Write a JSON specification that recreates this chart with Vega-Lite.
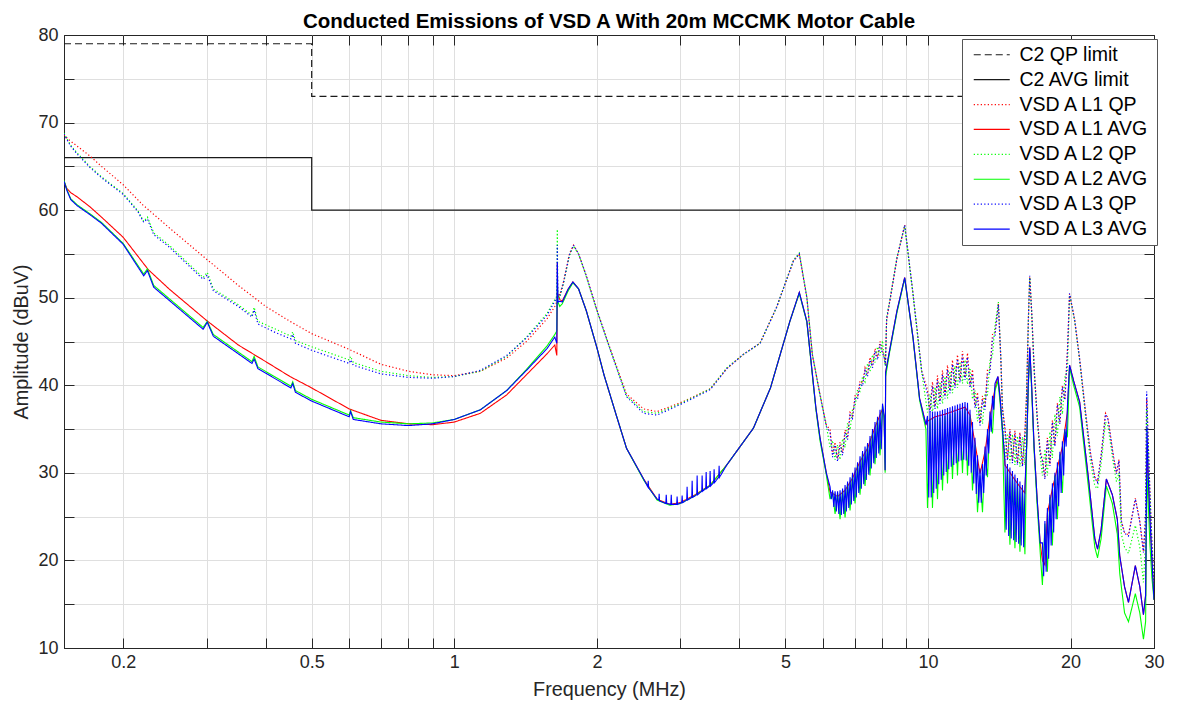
{
"$schema":"https://vega.github.io/schema/vega-lite/v6.json",
"width":1090,"height":613,
"autosize":{"type":"none"},
"padding":{"left":64,"top":35,"right":25,"bottom":57},
"background":"white",
"title":{"text":"Conducted Emissions of VSD A With 20m MCCMK Motor Cable","fontSize":20.5,"fontWeight":"bold","font":"Liberation Sans","color":"#000000","offset":6,"dy":12},
"config":{"font":"Liberation Sans","view":{"stroke":"#262626","strokeWidth":1}},
"data":{"values":[
{"s":1,"f":0.15,"v":79,"i":0},{"s":1,"f":0.5,"v":79,"i":1},{"s":1,"f":0.5,"v":73,"i":2},{"s":1,"f":30,"v":73,"i":3},
{"s":2,"f":0.15,"v":66,"i":0},{"s":2,"f":0.5,"v":66,"i":1},{"s":2,"f":0.5,"v":60,"i":2},{"s":2,"f":30,"v":60,"i":3},
{"s":3,"f":0.15,"v":68.6},{"s":3,"f":0.153,"v":68.1},{"s":3,"f":0.16,"v":67.3},{"s":3,"f":0.17,"v":66.2},{"s":3,"f":0.18,"v":65.0},{"s":3,"f":0.2,"v":62.9},{"s":3,"f":0.22,"v":60.6},{"s":3,"f":0.25,"v":58.0},{"s":3,"f":0.3,"v":54.4},{"s":3,"f":0.35,"v":51.4},{"s":3,"f":0.4,"v":49.0},{"s":3,"f":0.45,"v":47.3},{"s":3,"f":0.5,"v":45.9},{"s":3,"f":0.6,"v":44.1},{"s":3,"f":0.7,"v":42.4},{"s":3,"f":0.8,"v":41.6},{"s":3,"f":0.9,"v":41.2},{"s":3,"f":1.0,"v":41.1},{"s":3,"f":1.135,"v":41.6},{"s":3,"f":1.29,"v":43.1},{"s":3,"f":1.42,"v":45.0},{"s":3,"f":1.57,"v":47.6},{"s":3,"f":1.63,"v":49.0},{"s":3,"f":1.648,"v":49.6},{"s":3,"f":1.65,"v":54.0},{"s":3,"f":1.653,"v":50.5},{"s":3,"f":1.67,"v":50.3},{"s":3,"f":1.7,"v":51.8},{"s":3,"f":1.75,"v":55.0},{"s":3,"f":1.785,"v":56.0},{"s":3,"f":1.83,"v":55.0},{"s":3,"f":1.9,"v":52.5},{"s":3,"f":2.0,"v":48.6},{"s":3,"f":2.13,"v":44.3},{"s":3,"f":2.31,"v":39.0},{"s":3,"f":2.51,"v":37.3},{"s":3,"f":2.68,"v":37.0},{"s":3,"f":3.0,"v":38.0},{"s":3,"f":3.47,"v":39.6},{"s":3,"f":3.76,"v":41.9},{"s":3,"f":4.07,"v":43.5},{"s":3,"f":4.42,"v":44.8},{"s":3,"f":4.79,"v":48.9},{"s":3,"f":5.2,"v":54.2},{"s":3,"f":5.35,"v":55.0},{"s":3,"f":5.55,"v":50.0},{"s":3,"f":5.7,"v":43.5},{"s":3,"f":5.92,"v":38.9},{"s":3,"f":6.1,"v":35.5},
{"s":3,"f":6.213,"v":34.9},{"s":3,"f":6.289,"v":32.1},{"s":3,"f":6.366,"v":33.5},{"s":3,"f":6.444,"v":31.6},{"s":3,"f":6.522,"v":33.5},{"s":3,"f":6.602,"v":32.3},{"s":3,"f":6.683,"v":34.9},{"s":3,"f":6.764,"v":34.1},{"s":3,"f":6.847,"v":36.9},{"s":3,"f":6.93,"v":36.5},{"s":3,"f":7.015,"v":38.8},{"s":3,"f":7.101,"v":38.7},{"s":3,"f":7.187,"v":40.5},{"s":3,"f":7.275,"v":40.2},{"s":3,"f":7.364,"v":42.0},{"s":3,"f":7.454,"v":41.3},{"s":3,"f":7.545,"v":43.2},{"s":3,"f":7.637,"v":42.3},{"s":3,"f":7.73,"v":44.2},{"s":3,"f":7.825,"v":43.2},{"s":3,"f":7.92,"v":45.0},{"s":3,"f":8.017,"v":43.9},
{"s":3,"f":8.07,"v":43.5},{"s":3,"f":8.13,"v":42.4},{"s":3,"f":8.18,"v":47.5},{"s":3,"f":8.3,"v":49.5},{"s":3,"f":8.6,"v":54.5},{"s":3,"f":8.93,"v":58.3},{"s":3,"f":9.3,"v":50.4},{"s":3,"f":9.7,"v":41.6},
{"s":3,"f":9.976,"v":39.5},{"s":3,"f":10.098,"v":37.2},{"s":3,"f":10.221,"v":40.4},{"s":3,"f":10.346,"v":37.6},{"s":3,"f":10.473,"v":41.1},{"s":3,"f":10.601,"v":38.2},{"s":3,"f":10.731,"v":41.7},{"s":3,"f":10.862,"v":38.8},{"s":3,"f":10.995,"v":42.3},{"s":3,"f":11.129,"v":39.4},{"s":3,"f":11.265,"v":42.9},{"s":3,"f":11.403,"v":40.0},{"s":3,"f":11.542,"v":43.5},{"s":3,"f":11.683,"v":40.6},{"s":3,"f":11.826,"v":43.9},{"s":3,"f":11.971,"v":40.9},{"s":3,"f":12.117,"v":43.7},{"s":3,"f":12.265,"v":40.0},{"s":3,"f":12.415,"v":41.8},{"s":3,"f":12.567,"v":37.7},{"s":3,"f":12.721,"v":39.2},{"s":3,"f":12.876,"v":35.7},{"s":3,"f":13.034,"v":38.8},{"s":3,"f":13.193,"v":37.5},{"s":3,"f":13.354,"v":41.8},{"s":3,"f":13.517,"v":41.8},{"s":3,"f":13.682,"v":45.8},{"s":3,"f":13.85,"v":46.0},
{"s":3,"f":14.08,"v":49.3},{"s":3,"f":14.25,"v":43.0},{"s":3,"f":14.36,"v":37.5},
{"s":3,"f":14.536,"v":35.2},{"s":3,"f":14.713,"v":31.6},{"s":3,"f":14.893,"v":35.0},{"s":3,"f":15.075,"v":31.3},{"s":3,"f":15.259,"v":34.8},{"s":3,"f":15.446,"v":31.1},{"s":3,"f":15.635,"v":34.6},{"s":3,"f":15.826,"v":30.9},{"s":3,"f":16.019,"v":34.8},
{"s":3,"f":16.15,"v":39.0},{"s":3,"f":16.3,"v":48.0},{"s":3,"f":16.4,"v":52.4},{"s":3,"f":16.55,"v":48.5},{"s":3,"f":16.75,"v":42.0},{"s":3,"f":17.0,"v":36.5},{"s":3,"f":17.25,"v":32.5},
{"s":3,"f":17.44,"v":31.5},{"s":3,"f":17.653,"v":29.5},{"s":3,"f":17.869,"v":34.0},{"s":3,"f":18.087,"v":31.0},{"s":3,"f":18.308,"v":36.0},{"s":3,"f":18.532,"v":33.2},{"s":3,"f":18.759,"v":38.0},{"s":3,"f":18.988,"v":35.8},{"s":3,"f":19.22,"v":40.0},{"s":3,"f":19.455,"v":38.5},{"s":3,"f":19.693,"v":44.0},
{"s":3,"f":19.9,"v":50.4},{"s":3,"f":20.4,"v":47.5},{"s":3,"f":20.9,"v":43.0},{"s":3,"f":21.5,"v":37.0},{"s":3,"f":22.0,"v":32.5},{"s":3,"f":22.5,"v":29.5},{"s":3,"f":22.8,"v":29.0},{"s":3,"f":23.2,"v":32.0},{"s":3,"f":23.7,"v":36.8},{"s":3,"f":24.0,"v":36.2},{"s":3,"f":24.6,"v":32.1},{"s":3,"f":25.0,"v":30.0},{"s":3,"f":25.3,"v":31.5},{"s":3,"f":25.6,"v":24.5},{"s":3,"f":26.0,"v":23.2},{"s":3,"f":26.5,"v":22.9},{"s":3,"f":27.4,"v":27.1},{"s":3,"f":28.0,"v":24.5},{"s":3,"f":28.5,"v":21.0},{"s":3,"f":28.8,"v":25.0},{"s":3,"f":28.95,"v":38.5},{"s":3,"f":29.1,"v":35.0},{"s":3,"f":29.4,"v":28.0},{"s":3,"f":29.7,"v":22.0},{"s":3,"f":30.0,"v":17.0},
{"s":4,"f":0.15,"v":63.3},{"s":4,"f":0.152,"v":62.5},{"s":4,"f":0.155,"v":62.0},{"s":4,"f":0.16,"v":61.5},{"s":4,"f":0.17,"v":60.4},{"s":4,"f":0.18,"v":59.2},{"s":4,"f":0.2,"v":56.9},{"s":4,"f":0.226,"v":53.2},{"s":4,"f":0.25,"v":51.0},{"s":4,"f":0.3,"v":47.4},{"s":4,"f":0.35,"v":44.6},{"s":4,"f":0.4,"v":42.7},{"s":4,"f":0.45,"v":41.0},{"s":4,"f":0.5,"v":39.7},{"s":4,"f":0.6,"v":37.3},{"s":4,"f":0.7,"v":36.0},{"s":4,"f":0.8,"v":35.6},{"s":4,"f":0.9,"v":35.5},{"s":4,"f":1.0,"v":35.8},{"s":4,"f":1.135,"v":36.8},{"s":4,"f":1.29,"v":38.9},{"s":4,"f":1.42,"v":41.2},{"s":4,"f":1.57,"v":43.6},{"s":4,"f":1.63,"v":44.6},{"s":4,"f":1.646,"v":43.4},{"s":4,"f":1.65,"v":50.5},{"s":4,"f":1.67,"v":49.8},{"s":4,"f":1.69,"v":49.6},{"s":4,"f":1.74,"v":51.0},{"s":4,"f":1.78,"v":51.8},{"s":4,"f":1.83,"v":51.0},{"s":4,"f":1.9,"v":48.5},{"s":4,"f":2.0,"v":44.3},{"s":4,"f":2.07,"v":41.2},{"s":4,"f":2.2,"v":36.5},{"s":4,"f":2.31,"v":32.8},{"s":4,"f":2.51,"v":29.3},{"s":4,"f":2.68,"v":27.0},{"s":4,"f":2.85,"v":26.4},{"s":4,"f":3.0,"v":26.6},{"s":4,"f":3.2,"v":27.4},{"s":4,"f":3.47,"v":28.6},{"s":4,"f":3.76,"v":30.9},{"s":4,"f":4.28,"v":35.1},{"s":4,"f":4.65,"v":39.7},{"s":4,"f":5.11,"v":47.3},{"s":4,"f":5.35,"v":50.6},{"s":4,"f":5.55,"v":47.3},{"s":4,"f":5.8,"v":37.4},{"s":4,"f":5.92,"v":33.9},{"s":4,"f":6.1,"v":30.0},{"s":4,"f":6.213,"v":27.8},{"s":4,"f":6.444,"v":27.3},{"s":4,"f":6.683,"v":28.0},{"s":4,"f":6.93,"v":29.4},{"s":4,"f":7.187,"v":31.3},{"s":4,"f":7.454,"v":32.8},{"s":4,"f":7.73,"v":35.2},{"s":4,"f":8.017,"v":37.3},{"s":4,"f":8.08,"v":36.5},{"s":4,"f":8.12,"v":30.3},{"s":4,"f":8.14,"v":41.5},{"s":4,"f":8.3,"v":44.0},{"s":4,"f":8.6,"v":48.5},{"s":4,"f":8.93,"v":52.3},{"s":4,"f":9.3,"v":45.4},{"s":4,"f":9.6,"v":38.5},{"s":4,"f":9.9,"v":35.5},{"s":4,"f":9.976,"v":35.9},{"s":4,"f":10.346,"v":36.4},{"s":4,"f":10.862,"v":36.7},{"s":4,"f":11.403,"v":37.1},{"s":4,"f":11.971,"v":37.5},{"s":4,"f":12.265,"v":36.6},{"s":4,"f":12.567,"v":33.4},{"s":4,"f":12.876,"v":29.9},{"s":4,"f":13.193,"v":32.4},{"s":4,"f":13.517,"v":36.4},{"s":4,"f":13.85,"v":39.6},{"s":4,"f":14.05,"v":41.0},{"s":4,"f":14.2,"v":38.5},{"s":4,"f":14.36,"v":35.0},{"s":4,"f":14.536,"v":30.9},{"s":4,"f":15.075,"v":29.6},{"s":4,"f":15.635,"v":28.4},{"s":4,"f":16.019,"v":27.7},{"s":4,"f":16.15,"v":33.0},{"s":4,"f":16.28,"v":40.0},{"s":4,"f":16.4,"v":44.3},{"s":4,"f":16.55,"v":40.0},{"s":4,"f":16.75,"v":33.0},{"s":4,"f":17.0,"v":27.0},{"s":4,"f":17.25,"v":22.0},{"s":4,"f":17.44,"v":20.0},{"s":4,"f":17.653,"v":19.5},{"s":4,"f":17.869,"v":25.4},{"s":4,"f":18.308,"v":28.2},{"s":4,"f":18.759,"v":30.6},{"s":4,"f":19.22,"v":33.0},{"s":4,"f":19.693,"v":36.9},{"s":4,"f":19.9,"v":42.3},{"s":4,"f":20.3,"v":40.5},{"s":4,"f":20.9,"v":38.1},{"s":4,"f":21.8,"v":29.5},{"s":4,"f":22.5,"v":22.5},{"s":4,"f":22.8,"v":21.3},{"s":4,"f":23.2,"v":23.5},{"s":4,"f":23.8,"v":29.3},{"s":4,"f":24.5,"v":27.5},{"s":4,"f":25.1,"v":24.7},{"s":4,"f":25.4,"v":20.5},{"s":4,"f":26.0,"v":17.0},{"s":4,"f":26.5,"v":15.2},{"s":4,"f":27.4,"v":19.4},{"s":4,"f":28.0,"v":17.0},{"s":4,"f":28.5,"v":13.8},{"s":4,"f":28.8,"v":16.0},{"s":4,"f":29.0,"v":33.0},{"s":4,"f":29.15,"v":30.0},{"s":4,"f":29.4,"v":25.0},{"s":4,"f":29.7,"v":20.0},{"s":4,"f":30.0,"v":15.5},
{"s":5,"f":0.15,"v":68.8},{"s":5,"f":0.152,"v":68.2},{"s":5,"f":0.155,"v":67.4},{"s":5,"f":0.16,"v":66.5},{"s":5,"f":0.17,"v":65.0},{"s":5,"f":0.18,"v":63.8},{"s":5,"f":0.2,"v":61.9},{"s":5,"f":0.215,"v":59.9},{"s":5,"f":0.221,"v":58.7},{"s":5,"f":0.225,"v":59.2},{"s":5,"f":0.232,"v":57.4},{"s":5,"f":0.25,"v":56.0},{"s":5,"f":0.295,"v":52.3},{"s":5,"f":0.301,"v":52.9},{"s":5,"f":0.31,"v":51.0},{"s":5,"f":0.35,"v":49.2},{"s":5,"f":0.374,"v":48.0},{"s":5,"f":0.378,"v":48.9},{"s":5,"f":0.385,"v":47.3},{"s":5,"f":0.42,"v":46.4},{"s":5,"f":0.452,"v":45.6},{"s":5,"f":0.456,"v":46.1},{"s":5,"f":0.462,"v":45.1},{"s":5,"f":0.5,"v":44.4},{"s":5,"f":0.6,"v":42.9},{"s":5,"f":0.604,"v":43.3},{"s":5,"f":0.612,"v":42.6},{"s":5,"f":0.7,"v":41.6},{"s":5,"f":0.8,"v":41.1},{"s":5,"f":0.9,"v":40.9},{"s":5,"f":1.0,"v":41.0},{"s":5,"f":1.135,"v":41.6},{"s":5,"f":1.29,"v":43.3},{"s":5,"f":1.42,"v":45.5},{"s":5,"f":1.57,"v":48.2},{"s":5,"f":1.63,"v":49.8},{"s":5,"f":1.648,"v":50.2},{"s":5,"f":1.65,"v":57.8},{"s":5,"f":1.653,"v":50.2},{"s":5,"f":1.67,"v":50.0},{"s":5,"f":1.7,"v":51.6},{"s":5,"f":1.75,"v":54.8},{"s":5,"f":1.785,"v":55.9},{"s":5,"f":1.83,"v":55.0},{"s":5,"f":1.9,"v":52.4},{"s":5,"f":2.0,"v":48.5},{"s":5,"f":2.13,"v":44.2},{"s":5,"f":2.31,"v":38.8},{"s":5,"f":2.51,"v":37.0},{"s":5,"f":2.68,"v":36.8},{"s":5,"f":3.0,"v":37.9},{"s":5,"f":3.47,"v":39.6},{"s":5,"f":3.76,"v":42.0},{"s":5,"f":4.07,"v":43.5},{"s":5,"f":4.42,"v":44.8},{"s":5,"f":4.79,"v":48.9},{"s":5,"f":5.2,"v":54.3},{"s":5,"f":5.35,"v":55.1},{"s":5,"f":5.55,"v":50.1},{"s":5,"f":5.7,"v":43.6},{"s":5,"f":5.92,"v":38.8},{"s":5,"f":6.1,"v":35.4},
{"s":5,"f":6.213,"v":32.9},{"s":5,"f":6.289,"v":33.7},{"s":5,"f":6.366,"v":31.5},{"s":5,"f":6.444,"v":33.2},{"s":5,"f":6.522,"v":31.5},{"s":5,"f":6.602,"v":33.9},{"s":5,"f":6.683,"v":32.9},{"s":5,"f":6.764,"v":35.7},{"s":5,"f":6.847,"v":34.9},{"s":5,"f":6.93,"v":37.3},{"s":5,"f":7.015,"v":37.6},{"s":5,"f":7.101,"v":39.5},{"s":5,"f":7.187,"v":39.3},{"s":5,"f":7.275,"v":41.0},{"s":5,"f":7.364,"v":40.4},{"s":5,"f":7.454,"v":42.5},{"s":5,"f":7.545,"v":41.6},{"s":5,"f":7.637,"v":43.5},{"s":5,"f":7.73,"v":42.6},{"s":5,"f":7.825,"v":44.4},{"s":5,"f":7.92,"v":43.4},{"s":5,"f":8.017,"v":45.1},
{"s":5,"f":8.07,"v":43.3},{"s":5,"f":8.13,"v":42.2},{"s":5,"f":8.18,"v":47.8},{"s":5,"f":8.3,"v":49.6},{"s":5,"f":8.6,"v":54.6},{"s":5,"f":8.93,"v":58.2},{"s":5,"f":9.3,"v":50.3},{"s":5,"f":9.7,"v":41.5},
{"s":5,"f":9.976,"v":36.9},{"s":5,"f":10.098,"v":39.0},{"s":5,"f":10.221,"v":36.8},{"s":5,"f":10.346,"v":39.8},{"s":5,"f":10.473,"v":37.3},{"s":5,"f":10.601,"v":40.4},{"s":5,"f":10.731,"v":37.9},{"s":5,"f":10.862,"v":41.0},{"s":5,"f":10.995,"v":38.5},{"s":5,"f":11.129,"v":41.6},{"s":5,"f":11.265,"v":39.1},{"s":5,"f":11.403,"v":42.2},{"s":5,"f":11.542,"v":39.7},{"s":5,"f":11.683,"v":42.7},{"s":5,"f":11.826,"v":40.2},{"s":5,"f":11.971,"v":42.9},{"s":5,"f":12.117,"v":40.1},{"s":5,"f":12.265,"v":42.0},{"s":5,"f":12.415,"v":38.4},{"s":5,"f":12.567,"v":39.4},{"s":5,"f":12.721,"v":35.9},{"s":5,"f":12.876,"v":37.5},{"s":5,"f":13.034,"v":35.6},{"s":5,"f":13.193,"v":39.0},{"s":5,"f":13.354,"v":38.9},{"s":5,"f":13.517,"v":42.8},{"s":5,"f":13.682,"v":43.4},{"s":5,"f":13.85,"v":46.8},
{"s":5,"f":14.08,"v":49.5},{"s":5,"f":14.25,"v":43.0},{"s":5,"f":14.36,"v":37.3},
{"s":5,"f":14.536,"v":31.5},{"s":5,"f":14.713,"v":34.5},{"s":5,"f":14.893,"v":31.1},{"s":5,"f":15.075,"v":34.4},{"s":5,"f":15.259,"v":30.9},{"s":5,"f":15.446,"v":34.2},{"s":5,"f":15.635,"v":30.7},{"s":5,"f":15.826,"v":34.1},{"s":5,"f":16.019,"v":30.9},
{"s":5,"f":16.15,"v":38.8},{"s":5,"f":16.3,"v":48.0},{"s":5,"f":16.4,"v":52.3},{"s":5,"f":16.55,"v":48.3},{"s":5,"f":16.75,"v":41.8},{"s":5,"f":17.0,"v":36.2},{"s":5,"f":17.25,"v":32.0},
{"s":5,"f":17.44,"v":29.7},{"s":5,"f":17.653,"v":32.7},{"s":5,"f":17.869,"v":29.7},{"s":5,"f":18.087,"v":34.7},{"s":5,"f":18.308,"v":31.7},{"s":5,"f":18.532,"v":36.7},{"s":5,"f":18.759,"v":34.2},{"s":5,"f":18.988,"v":38.7},{"s":5,"f":19.22,"v":36.7},{"s":5,"f":19.455,"v":40.9},{"s":5,"f":19.693,"v":41.7},
{"s":5,"f":19.9,"v":50.3},{"s":5,"f":20.4,"v":47.3},{"s":5,"f":20.9,"v":42.8},{"s":5,"f":21.5,"v":36.5},{"s":5,"f":22.0,"v":31.5},{"s":5,"f":22.5,"v":28.5},{"s":5,"f":22.8,"v":28.2},{"s":5,"f":23.2,"v":31.0},{"s":5,"f":23.7,"v":35.8},{"s":5,"f":24.0,"v":35.3},{"s":5,"f":24.6,"v":31.2},{"s":5,"f":25.0,"v":29.0},{"s":5,"f":25.3,"v":30.0},{"s":5,"f":25.6,"v":23.0},{"s":5,"f":26.0,"v":21.5},{"s":5,"f":26.5,"v":20.8},{"s":5,"f":27.4,"v":24.0},{"s":5,"f":28.0,"v":21.5},{"s":5,"f":28.5,"v":17.5},{"s":5,"f":28.8,"v":22.0},{"s":5,"f":28.95,"v":37.5},{"s":5,"f":29.1,"v":34.0},{"s":5,"f":29.4,"v":27.0},{"s":5,"f":29.7,"v":21.0},{"s":5,"f":30.0,"v":16.0},
{"s":6,"f":0.15,"v":63.4},{"s":6,"f":0.152,"v":62.4},{"s":6,"f":0.155,"v":61.3},{"s":6,"f":0.16,"v":60.6},{"s":6,"f":0.17,"v":59.6},{"s":6,"f":0.18,"v":58.6},{"s":6,"f":0.2,"v":56.2},{"s":6,"f":0.221,"v":52.7},{"s":6,"f":0.225,"v":53.3},{"s":6,"f":0.232,"v":51.4},{"s":6,"f":0.295,"v":46.6},{"s":6,"f":0.301,"v":47.3},{"s":6,"f":0.31,"v":45.8},{"s":6,"f":0.374,"v":42.7},{"s":6,"f":0.378,"v":43.3},{"s":6,"f":0.385,"v":42.1},{"s":6,"f":0.452,"v":39.9},{"s":6,"f":0.456,"v":40.4},{"s":6,"f":0.462,"v":39.4},{"s":6,"f":0.5,"v":38.4},{"s":6,"f":0.6,"v":36.6},{"s":6,"f":0.604,"v":37.1},{"s":6,"f":0.612,"v":36.3},{"s":6,"f":0.7,"v":35.8},{"s":6,"f":0.8,"v":35.6},{"s":6,"f":0.9,"v":35.7},{"s":6,"f":1.0,"v":36.1},{"s":6,"f":1.135,"v":37.2},{"s":6,"f":1.29,"v":39.4},{"s":6,"f":1.42,"v":41.8},{"s":6,"f":1.57,"v":44.5},{"s":6,"f":1.63,"v":45.8},{"s":6,"f":1.646,"v":46.2},{"s":6,"f":1.65,"v":52.0},{"s":6,"f":1.655,"v":49.5},{"s":6,"f":1.67,"v":49.0},{"s":6,"f":1.69,"v":49.3},{"s":6,"f":1.74,"v":50.8},{"s":6,"f":1.78,"v":51.7},{"s":6,"f":1.83,"v":51.0},{"s":6,"f":1.9,"v":48.5},{"s":6,"f":2.0,"v":44.3},{"s":6,"f":2.07,"v":41.2},{"s":6,"f":2.2,"v":36.5},{"s":6,"f":2.31,"v":32.8},{"s":6,"f":2.51,"v":29.2},{"s":6,"f":2.68,"v":26.9},{"s":6,"f":2.85,"v":26.3},{"s":6,"f":3.0,"v":26.5},{"s":6,"f":3.2,"v":27.3},{"s":6,"f":3.47,"v":28.6},{"s":6,"f":3.76,"v":30.9},{"s":6,"f":4.28,"v":35.1},{"s":6,"f":4.65,"v":39.7},{"s":6,"f":5.11,"v":47.3},{"s":6,"f":5.35,"v":50.5},{"s":6,"f":5.55,"v":47.2},{"s":6,"f":5.8,"v":37.2},{"s":6,"f":5.92,"v":33.6},{"s":6,"f":6.1,"v":29.8},
{"s":6,"f":6.213,"v":27.0},{"s":6,"f":6.289,"v":27.8},{"s":6,"f":6.366,"v":25.3},{"s":6,"f":6.444,"v":27.7},{"s":6,"f":6.522,"v":24.7},{"s":6,"f":6.602,"v":28.0},{"s":6,"f":6.683,"v":24.9},{"s":6,"f":6.764,"v":28.8},{"s":6,"f":6.847,"v":25.7},{"s":6,"f":6.93,"v":29.8},{"s":6,"f":7.015,"v":26.5},{"s":6,"f":7.101,"v":31.0},{"s":6,"f":7.187,"v":27.5},{"s":6,"f":7.275,"v":32.3},{"s":6,"f":7.364,"v":28.5},{"s":6,"f":7.454,"v":33.2},{"s":6,"f":7.545,"v":29.7},{"s":6,"f":7.637,"v":34.8},{"s":6,"f":7.73,"v":31.0},{"s":6,"f":7.825,"v":36.2},{"s":6,"f":7.92,"v":32.0},{"s":6,"f":8.017,"v":37.7},
{"s":6,"f":8.08,"v":36.0},{"s":6,"f":8.12,"v":30.0},{"s":6,"f":8.14,"v":41.0},{"s":6,"f":8.3,"v":43.8},{"s":6,"f":8.6,"v":48.3},{"s":6,"f":8.93,"v":52.2},{"s":6,"f":9.3,"v":45.3},{"s":6,"f":9.6,"v":38.3},{"s":6,"f":9.9,"v":35.0},
{"s":6,"f":9.976,"v":26.0},{"s":6,"f":10.098,"v":36.2},{"s":6,"f":10.221,"v":26.0},{"s":6,"f":10.346,"v":36.2},{"s":6,"f":10.473,"v":27.0},{"s":6,"f":10.601,"v":36.3},{"s":6,"f":10.731,"v":28.0},{"s":6,"f":10.862,"v":36.5},{"s":6,"f":10.995,"v":28.8},{"s":6,"f":11.129,"v":36.7},{"s":6,"f":11.265,"v":29.3},{"s":6,"f":11.403,"v":36.9},{"s":6,"f":11.542,"v":29.7},{"s":6,"f":11.683,"v":37.1},{"s":6,"f":11.826,"v":30.0},{"s":6,"f":11.971,"v":37.3},{"s":6,"f":12.117,"v":29.7},{"s":6,"f":12.265,"v":36.4},{"s":6,"f":12.415,"v":28.0},{"s":6,"f":12.567,"v":33.2},{"s":6,"f":12.721,"v":25.5},{"s":6,"f":12.876,"v":29.7},{"s":6,"f":13.034,"v":25.5},{"s":6,"f":13.193,"v":32.2},{"s":6,"f":13.354,"v":29.5},{"s":6,"f":13.517,"v":36.2},{"s":6,"f":13.682,"v":34.5},{"s":6,"f":13.85,"v":39.4},
{"s":6,"f":14.05,"v":40.5},{"s":6,"f":14.2,"v":38.0},{"s":6,"f":14.36,"v":34.5},
{"s":6,"f":14.536,"v":23.2},{"s":6,"f":14.713,"v":30.7},{"s":6,"f":14.893,"v":21.8},{"s":6,"f":15.075,"v":29.9},{"s":6,"f":15.259,"v":21.4},{"s":6,"f":15.446,"v":29.1},{"s":6,"f":15.635,"v":21.0},{"s":6,"f":15.826,"v":28.3},{"s":6,"f":16.019,"v":20.7},
{"s":6,"f":16.15,"v":32.5},{"s":6,"f":16.28,"v":39.5},{"s":6,"f":16.4,"v":43.8},{"s":6,"f":16.55,"v":39.5},{"s":6,"f":16.75,"v":32.5},{"s":6,"f":17.0,"v":26.3},{"s":6,"f":17.25,"v":21.0},
{"s":6,"f":17.44,"v":17.2},{"s":6,"f":17.653,"v":24.2},{"s":6,"f":17.869,"v":18.7},{"s":6,"f":18.087,"v":27.2},{"s":6,"f":18.308,"v":21.7},{"s":6,"f":18.532,"v":29.7},{"s":6,"f":18.759,"v":24.7},{"s":6,"f":18.988,"v":32.1},{"s":6,"f":19.22,"v":27.7},{"s":6,"f":19.455,"v":34.7},{"s":6,"f":19.693,"v":34.2},
{"s":6,"f":19.9,"v":42.0},{"s":6,"f":20.3,"v":40.0},{"s":6,"f":20.9,"v":37.5},{"s":6,"f":21.8,"v":28.5},{"s":6,"f":22.5,"v":21.5},{"s":6,"f":22.8,"v":20.3},{"s":6,"f":23.2,"v":22.5},{"s":6,"f":23.8,"v":28.5},{"s":6,"f":24.5,"v":26.5},{"s":6,"f":25.1,"v":23.0},{"s":6,"f":25.4,"v":18.5},{"s":6,"f":26.0,"v":14.0},{"s":6,"f":26.5,"v":13.0},{"s":6,"f":27.4,"v":16.2},{"s":6,"f":28.0,"v":14.0},{"s":6,"f":28.5,"v":11.0},{"s":6,"f":28.8,"v":13.0},{"s":6,"f":29.0,"v":30.0},{"s":6,"f":29.15,"v":27.0},{"s":6,"f":29.4,"v":22.0},{"s":6,"f":29.7,"v":18.0},{"s":6,"f":30.0,"v":15.5},
{"s":7,"f":0.15,"v":68.7},{"s":7,"f":0.152,"v":68.1},{"s":7,"f":0.155,"v":67.3},{"s":7,"f":0.16,"v":66.4},{"s":7,"f":0.17,"v":64.9},{"s":7,"f":0.18,"v":63.7},{"s":7,"f":0.2,"v":61.8},{"s":7,"f":0.215,"v":59.8},{"s":7,"f":0.221,"v":58.6},{"s":7,"f":0.225,"v":59.0},{"s":7,"f":0.232,"v":57.2},{"s":7,"f":0.25,"v":55.8},{"s":7,"f":0.295,"v":52.1},{"s":7,"f":0.301,"v":52.6},{"s":7,"f":0.31,"v":50.8},{"s":7,"f":0.35,"v":49.0},{"s":7,"f":0.374,"v":47.8},{"s":7,"f":0.378,"v":48.6},{"s":7,"f":0.385,"v":47.0},{"s":7,"f":0.42,"v":46.0},{"s":7,"f":0.452,"v":45.3},{"s":7,"f":0.456,"v":45.8},{"s":7,"f":0.462,"v":44.8},{"s":7,"f":0.5,"v":44.0},{"s":7,"f":0.6,"v":42.5},{"s":7,"f":0.604,"v":42.9},{"s":7,"f":0.612,"v":42.3},{"s":7,"f":0.7,"v":41.3},{"s":7,"f":0.8,"v":40.9},{"s":7,"f":0.9,"v":40.8},{"s":7,"f":1.0,"v":41.0},{"s":7,"f":1.135,"v":41.7},{"s":7,"f":1.29,"v":43.4},{"s":7,"f":1.42,"v":45.4},{"s":7,"f":1.57,"v":48.0},{"s":7,"f":1.63,"v":49.6},{"s":7,"f":1.648,"v":50.0},{"s":7,"f":1.65,"v":56.0},{"s":7,"f":1.653,"v":50.4},{"s":7,"f":1.67,"v":50.2},{"s":7,"f":1.7,"v":51.7},{"s":7,"f":1.75,"v":54.9},{"s":7,"f":1.785,"v":56.0},{"s":7,"f":1.83,"v":55.0},{"s":7,"f":1.9,"v":52.5},{"s":7,"f":2.0,"v":48.6},{"s":7,"f":2.13,"v":44.2},{"s":7,"f":2.31,"v":38.7},{"s":7,"f":2.51,"v":36.8},{"s":7,"f":2.68,"v":36.6},{"s":7,"f":3.0,"v":37.8},{"s":7,"f":3.47,"v":39.5},{"s":7,"f":3.76,"v":41.9},{"s":7,"f":4.07,"v":43.5},{"s":7,"f":4.42,"v":44.8},{"s":7,"f":4.79,"v":48.9},{"s":7,"f":5.2,"v":54.2},{"s":7,"f":5.35,"v":55.0},{"s":7,"f":5.55,"v":50.0},{"s":7,"f":5.7,"v":43.5},{"s":7,"f":5.92,"v":38.8},{"s":7,"f":6.1,"v":35.3},
{"s":7,"f":6.213,"v":34.6},{"s":7,"f":6.289,"v":31.8},{"s":7,"f":6.366,"v":33.2},{"s":7,"f":6.444,"v":31.3},{"s":7,"f":6.522,"v":33.2},{"s":7,"f":6.602,"v":32.0},{"s":7,"f":6.683,"v":34.6},{"s":7,"f":6.764,"v":33.8},{"s":7,"f":6.847,"v":36.6},{"s":7,"f":6.93,"v":36.2},{"s":7,"f":7.015,"v":38.5},{"s":7,"f":7.101,"v":38.4},{"s":7,"f":7.187,"v":40.2},{"s":7,"f":7.275,"v":39.9},{"s":7,"f":7.364,"v":41.7},{"s":7,"f":7.454,"v":41.0},{"s":7,"f":7.545,"v":42.9},{"s":7,"f":7.637,"v":42.0},{"s":7,"f":7.73,"v":43.9},{"s":7,"f":7.825,"v":42.9},{"s":7,"f":7.92,"v":44.7},{"s":7,"f":8.017,"v":43.6},
{"s":7,"f":8.07,"v":43.4},{"s":7,"f":8.13,"v":42.3},{"s":7,"f":8.18,"v":47.6},{"s":7,"f":8.3,"v":49.5},{"s":7,"f":8.6,"v":54.5},{"s":7,"f":8.93,"v":58.3},{"s":7,"f":9.3,"v":50.4},{"s":7,"f":9.7,"v":41.6},
{"s":7,"f":9.976,"v":39.0},{"s":7,"f":10.098,"v":36.9},{"s":7,"f":10.221,"v":39.9},{"s":7,"f":10.346,"v":37.3},{"s":7,"f":10.473,"v":40.6},{"s":7,"f":10.601,"v":37.9},{"s":7,"f":10.731,"v":41.2},{"s":7,"f":10.862,"v":38.5},{"s":7,"f":10.995,"v":41.8},{"s":7,"f":11.129,"v":39.1},{"s":7,"f":11.265,"v":42.4},{"s":7,"f":11.403,"v":39.7},{"s":7,"f":11.542,"v":43.0},{"s":7,"f":11.683,"v":40.3},{"s":7,"f":11.826,"v":43.4},{"s":7,"f":11.971,"v":40.6},{"s":7,"f":12.117,"v":43.2},{"s":7,"f":12.265,"v":39.7},{"s":7,"f":12.415,"v":41.3},{"s":7,"f":12.567,"v":37.4},{"s":7,"f":12.721,"v":38.7},{"s":7,"f":12.876,"v":35.4},{"s":7,"f":13.034,"v":38.3},{"s":7,"f":13.193,"v":37.2},{"s":7,"f":13.354,"v":41.3},{"s":7,"f":13.517,"v":41.5},{"s":7,"f":13.682,"v":45.3},{"s":7,"f":13.85,"v":45.7},
{"s":7,"f":14.08,"v":49.2},{"s":7,"f":14.25,"v":43.0},{"s":7,"f":14.36,"v":37.4},
{"s":7,"f":14.536,"v":35.0},{"s":7,"f":14.713,"v":31.4},{"s":7,"f":14.893,"v":34.8},{"s":7,"f":15.075,"v":31.1},{"s":7,"f":15.259,"v":34.6},{"s":7,"f":15.446,"v":30.9},{"s":7,"f":15.635,"v":34.4},{"s":7,"f":15.826,"v":30.7},{"s":7,"f":16.019,"v":34.6},
{"s":7,"f":16.15,"v":39.0},{"s":7,"f":16.3,"v":48.0},{"s":7,"f":16.4,"v":52.5},{"s":7,"f":16.55,"v":48.5},{"s":7,"f":16.75,"v":42.0},{"s":7,"f":17.0,"v":36.4},{"s":7,"f":17.25,"v":32.4},
{"s":7,"f":17.44,"v":31.3},{"s":7,"f":17.653,"v":29.3},{"s":7,"f":17.869,"v":33.8},{"s":7,"f":18.087,"v":30.8},{"s":7,"f":18.308,"v":35.8},{"s":7,"f":18.532,"v":33.0},{"s":7,"f":18.759,"v":37.8},{"s":7,"f":18.988,"v":35.6},{"s":7,"f":19.22,"v":39.8},{"s":7,"f":19.455,"v":38.3},{"s":7,"f":19.693,"v":43.8},
{"s":7,"f":19.9,"v":50.5},{"s":7,"f":20.4,"v":47.5},{"s":7,"f":20.9,"v":43.0},{"s":7,"f":21.5,"v":37.0},{"s":7,"f":22.0,"v":32.4},{"s":7,"f":22.5,"v":29.4},{"s":7,"f":22.8,"v":28.9},{"s":7,"f":23.2,"v":31.9},{"s":7,"f":23.7,"v":36.7},{"s":7,"f":24.0,"v":36.1},{"s":7,"f":24.6,"v":32.0},{"s":7,"f":25.0,"v":29.9},{"s":7,"f":25.3,"v":31.4},{"s":7,"f":25.6,"v":24.4},{"s":7,"f":26.0,"v":23.1},{"s":7,"f":26.5,"v":22.8},{"s":7,"f":27.4,"v":27.0},{"s":7,"f":28.0,"v":24.4},{"s":7,"f":28.5,"v":20.9},{"s":7,"f":28.8,"v":25.0},{"s":7,"f":28.95,"v":39.3},{"s":7,"f":29.1,"v":35.5},{"s":7,"f":29.4,"v":28.0},{"s":7,"f":29.7,"v":22.0},{"s":7,"f":30.0,"v":17.5},
{"s":8,"f":0.15,"v":63.3},{"s":8,"f":0.152,"v":62.3},{"s":8,"f":0.155,"v":61.2},{"s":8,"f":0.16,"v":60.5},{"s":8,"f":0.17,"v":59.5},{"s":8,"f":0.18,"v":58.5},{"s":8,"f":0.2,"v":56.1},{"s":8,"f":0.221,"v":52.5},{"s":8,"f":0.225,"v":53.1},{"s":8,"f":0.232,"v":51.2},{"s":8,"f":0.295,"v":46.4},{"s":8,"f":0.301,"v":47.2},{"s":8,"f":0.31,"v":45.6},{"s":8,"f":0.374,"v":42.5},{"s":8,"f":0.378,"v":43.0},{"s":8,"f":0.385,"v":41.9},{"s":8,"f":0.452,"v":39.7},{"s":8,"f":0.456,"v":40.2},{"s":8,"f":0.462,"v":39.2},{"s":8,"f":0.5,"v":38.2},{"s":8,"f":0.6,"v":36.4},{"s":8,"f":0.604,"v":37.0},{"s":8,"f":0.612,"v":36.1},{"s":8,"f":0.7,"v":35.6},{"s":8,"f":0.8,"v":35.4},{"s":8,"f":0.9,"v":35.6},{"s":8,"f":1.0,"v":36.1},{"s":8,"f":1.135,"v":37.2},{"s":8,"f":1.29,"v":39.4},{"s":8,"f":1.42,"v":41.7},{"s":8,"f":1.57,"v":44.2},{"s":8,"f":1.63,"v":45.5},{"s":8,"f":1.646,"v":44.8},{"s":8,"f":1.65,"v":54.0},{"s":8,"f":1.655,"v":49.5},{"s":8,"f":1.67,"v":49.6},{"s":8,"f":1.69,"v":49.5},{"s":8,"f":1.74,"v":51.0},{"s":8,"f":1.78,"v":51.8},{"s":8,"f":1.83,"v":51.0},{"s":8,"f":1.9,"v":48.5},{"s":8,"f":2.0,"v":44.3},{"s":8,"f":2.07,"v":41.2},{"s":8,"f":2.2,"v":36.5},{"s":8,"f":2.31,"v":32.8},{"s":8,"f":2.51,"v":29.3},
{"s":8,"f":2.562,"v":28.4},{"s":8,"f":2.567,"v":29.1},{"s":8,"f":2.572,"v":28.3},{"s":8,"f":2.68,"v":27.0},{"s":8,"f":2.702,"v":26.9},{"s":8,"f":2.707,"v":27.6},{"s":8,"f":2.712,"v":26.8},{"s":8,"f":2.796,"v":26.5},{"s":8,"f":2.802,"v":27.5},{"s":8,"f":2.808,"v":26.5},{"s":8,"f":2.865,"v":26.4},{"s":8,"f":2.871,"v":27.5},{"s":8,"f":2.877,"v":26.4},{"s":8,"f":2.948,"v":26.4},{"s":8,"f":2.954,"v":27.3},{"s":8,"f":2.96,"v":26.4},{"s":8,"f":3.021,"v":26.6},{"s":8,"f":3.027,"v":27.4},{"s":8,"f":3.033,"v":26.6},{"s":8,"f":3.095,"v":26.9},{"s":8,"f":3.101,"v":28.4},{"s":8,"f":3.107,"v":26.9},{"s":8,"f":3.172,"v":27.2},{"s":8,"f":3.178,"v":29.1},{"s":8,"f":3.184,"v":27.2},{"s":8,"f":3.25,"v":27.5},{"s":8,"f":3.256,"v":29.7},{"s":8,"f":3.262,"v":27.5},{"s":8,"f":3.33,"v":27.9},{"s":8,"f":3.336,"v":29.7},{"s":8,"f":3.342,"v":27.9},{"s":8,"f":3.395,"v":28.2},{"s":8,"f":3.402,"v":30.1},{"s":8,"f":3.409,"v":28.2},{"s":8,"f":3.461,"v":28.5},{"s":8,"f":3.468,"v":30.2},{"s":8,"f":3.475,"v":28.5},{"s":8,"f":3.529,"v":28.9},{"s":8,"f":3.536,"v":30.4},{"s":8,"f":3.543,"v":28.9},{"s":8,"f":3.616,"v":29.5},{"s":8,"f":3.623,"v":30.8},{"s":8,"f":3.63,"v":29.5},
{"s":8,"f":3.76,"v":30.9},{"s":8,"f":4.28,"v":35.1},{"s":8,"f":4.65,"v":39.7},{"s":8,"f":5.11,"v":47.3},{"s":8,"f":5.35,"v":50.6},{"s":8,"f":5.55,"v":47.3},{"s":8,"f":5.8,"v":37.4},{"s":8,"f":5.92,"v":33.9},{"s":8,"f":6.1,"v":30.0},
{"s":8,"f":6.213,"v":28.4},{"s":8,"f":6.251,"v":27.0},{"s":8,"f":6.289,"v":28.0},{"s":8,"f":6.327,"v":26.1},{"s":8,"f":6.366,"v":27.9},{"s":8,"f":6.405,"v":25.6},{"s":8,"f":6.444,"v":27.9},{"s":8,"f":6.483,"v":25.3},{"s":8,"f":6.522,"v":28.0},{"s":8,"f":6.562,"v":25.2},{"s":8,"f":6.602,"v":28.2},{"s":8,"f":6.642,"v":25.3},{"s":8,"f":6.683,"v":28.6},{"s":8,"f":6.724,"v":25.6},{"s":8,"f":6.764,"v":29.0},{"s":8,"f":6.805,"v":26.0},{"s":8,"f":6.847,"v":29.5},{"s":8,"f":6.889,"v":26.4},{"s":8,"f":6.93,"v":30.0},{"s":8,"f":6.972,"v":26.8},{"s":8,"f":7.015,"v":30.6},{"s":8,"f":7.058,"v":27.2},{"s":8,"f":7.101,"v":31.2},{"s":8,"f":7.144,"v":27.7},{"s":8,"f":7.187,"v":31.9},{"s":8,"f":7.231,"v":28.2},{"s":8,"f":7.275,"v":32.5},{"s":8,"f":7.319,"v":28.7},{"s":8,"f":7.364,"v":33.0},{"s":8,"f":7.409,"v":29.2},{"s":8,"f":7.454,"v":33.4},{"s":8,"f":7.499,"v":29.8},{"s":8,"f":7.545,"v":34.2},{"s":8,"f":7.591,"v":30.5},{"s":8,"f":7.637,"v":35.0},{"s":8,"f":7.684,"v":31.1},{"s":8,"f":7.73,"v":35.8},{"s":8,"f":7.777,"v":31.7},{"s":8,"f":7.825,"v":36.4},{"s":8,"f":7.873,"v":32.2},{"s":8,"f":7.92,"v":37.2},{"s":8,"f":7.968,"v":32.7},{"s":8,"f":8.017,"v":37.9},
{"s":8,"f":8.08,"v":36.5},{"s":8,"f":8.12,"v":30.3},{"s":8,"f":8.14,"v":41.5},{"s":8,"f":8.3,"v":44.0},{"s":8,"f":8.6,"v":48.5},{"s":8,"f":8.93,"v":52.3},{"s":8,"f":9.3,"v":45.4},{"s":8,"f":9.6,"v":38.5},{"s":8,"f":9.9,"v":35.5},
{"s":8,"f":9.976,"v":36.5},{"s":8,"f":10.037,"v":27.2},{"s":8,"f":10.098,"v":37.0},{"s":8,"f":10.159,"v":27.2},{"s":8,"f":10.221,"v":37.0},{"s":8,"f":10.283,"v":27.7},{"s":8,"f":10.346,"v":37.0},{"s":8,"f":10.409,"v":28.2},{"s":8,"f":10.473,"v":37.0},{"s":8,"f":10.537,"v":28.7},{"s":8,"f":10.601,"v":37.1},{"s":8,"f":10.666,"v":29.2},{"s":8,"f":10.731,"v":37.2},{"s":8,"f":10.796,"v":29.7},{"s":8,"f":10.862,"v":37.3},{"s":8,"f":10.928,"v":30.1},{"s":8,"f":10.995,"v":37.4},{"s":8,"f":11.062,"v":30.4},{"s":8,"f":11.129,"v":37.5},{"s":8,"f":11.197,"v":30.7},{"s":8,"f":11.265,"v":37.6},{"s":8,"f":11.334,"v":30.9},{"s":8,"f":11.403,"v":37.7},{"s":8,"f":11.472,"v":31.1},{"s":8,"f":11.542,"v":37.8},{"s":8,"f":11.612,"v":31.3},{"s":8,"f":11.683,"v":37.9},{"s":8,"f":11.754,"v":31.4},{"s":8,"f":11.826,"v":38.0},{"s":8,"f":11.898,"v":31.5},{"s":8,"f":11.971,"v":38.1},{"s":8,"f":12.044,"v":31.4},{"s":8,"f":12.117,"v":38.0},{"s":8,"f":12.191,"v":30.8},{"s":8,"f":12.265,"v":37.2},{"s":8,"f":12.34,"v":30.0},{"s":8,"f":12.415,"v":35.8},{"s":8,"f":12.491,"v":28.8},{"s":8,"f":12.567,"v":34.0},{"s":8,"f":12.644,"v":27.6},{"s":8,"f":12.721,"v":32.0},{"s":8,"f":12.798,"v":26.6},{"s":8,"f":12.876,"v":30.5},{"s":8,"f":12.954,"v":26.6},{"s":8,"f":13.034,"v":31.0},{"s":8,"f":13.113,"v":27.7},{"s":8,"f":13.193,"v":33.0},{"s":8,"f":13.273,"v":29.7},{"s":8,"f":13.354,"v":35.0},{"s":8,"f":13.435,"v":32.2},{"s":8,"f":13.517,"v":37.0},{"s":8,"f":13.599,"v":34.7},{"s":8,"f":13.682,"v":38.8},{"s":8,"f":13.765,"v":37.2},{"s":8,"f":13.85,"v":40.2},
{"s":8,"f":14.05,"v":41.0},{"s":8,"f":14.2,"v":38.5},{"s":8,"f":14.36,"v":35.0},
{"s":8,"f":14.536,"v":31.5},{"s":8,"f":14.624,"v":23.5},{"s":8,"f":14.713,"v":31.0},{"s":8,"f":14.803,"v":22.8},{"s":8,"f":14.893,"v":30.6},{"s":8,"f":14.984,"v":22.5},{"s":8,"f":15.075,"v":30.2},{"s":8,"f":15.167,"v":22.3},{"s":8,"f":15.259,"v":29.8},{"s":8,"f":15.352,"v":22.1},{"s":8,"f":15.446,"v":29.4},{"s":8,"f":15.54,"v":21.9},{"s":8,"f":15.635,"v":29.0},{"s":8,"f":15.73,"v":21.7},{"s":8,"f":15.826,"v":28.6},{"s":8,"f":15.922,"v":21.5},{"s":8,"f":16.019,"v":28.3},
{"s":8,"f":16.15,"v":33.0},{"s":8,"f":16.28,"v":40.0},{"s":8,"f":16.4,"v":44.3},{"s":8,"f":16.55,"v":40.0},{"s":8,"f":16.75,"v":33.0},{"s":8,"f":17.0,"v":27.0},{"s":8,"f":17.25,"v":22.0},
{"s":8,"f":17.44,"v":22.0},{"s":8,"f":17.546,"v":18.2},{"s":8,"f":17.653,"v":24.5},{"s":8,"f":17.761,"v":18.7},{"s":8,"f":17.869,"v":26.0},{"s":8,"f":17.978,"v":20.2},{"s":8,"f":18.087,"v":27.5},{"s":8,"f":18.197,"v":21.7},{"s":8,"f":18.308,"v":28.8},{"s":8,"f":18.419,"v":23.2},{"s":8,"f":18.532,"v":30.0},{"s":8,"f":18.645,"v":24.7},{"s":8,"f":18.759,"v":31.2},{"s":8,"f":18.873,"v":26.2},{"s":8,"f":18.988,"v":32.4},{"s":8,"f":19.104,"v":27.7},{"s":8,"f":19.22,"v":33.6},{"s":8,"f":19.337,"v":29.7},{"s":8,"f":19.455,"v":35.0},{"s":8,"f":19.573,"v":33.0},{"s":8,"f":19.693,"v":37.5},
{"s":8,"f":19.9,"v":42.3},{"s":8,"f":20.3,"v":40.5},{"s":8,"f":20.9,"v":38.1},{"s":8,"f":21.8,"v":29.5},{"s":8,"f":22.5,"v":22.5},{"s":8,"f":22.8,"v":21.3},{"s":8,"f":23.2,"v":23.5},{"s":8,"f":23.8,"v":29.3},{"s":8,"f":24.5,"v":27.5},{"s":8,"f":25.1,"v":24.7},{"s":8,"f":25.4,"v":20.5},{"s":8,"f":26.0,"v":17.0},{"s":8,"f":26.5,"v":15.2},{"s":8,"f":27.4,"v":19.4},{"s":8,"f":28.0,"v":17.0},{"s":8,"f":28.5,"v":13.8},{"s":8,"f":28.8,"v":16.0},{"s":8,"f":29.0,"v":35.2},{"s":8,"f":29.15,"v":30.0},{"s":8,"f":29.4,"v":25.0},{"s":8,"f":29.7,"v":20.0},{"s":8,"f":30.0,"v":15.5}
]},
"encoding":{
"x":{"field":"f","type":"quantitative","scale":{"type":"log","domain":[0.15,30],"nice":false},"axis":null},
"y":{"field":"v","type":"quantitative","scale":{"domain":[10,80],"nice":false,"zero":false},"axis":null},
"color":{"field":"s","type":"nominal","scale":{"domain":[1,2,3,4,5,6,7,8],"range":["#1a1a1a","#1a1a1a","#ff0000","#ff0000","#00ff00","#00ff00","#0000ff","#0000ff"]},
"legend":{"title":null,"orient":"none","legendX":898,"legendY":4,"labelExpr":"['','C2 QP limit','C2 AVG limit','VSD A L1 QP','VSD A L1 AVG','VSD A L2 QP','VSD A L2 AVG','VSD A L3 QP','VSD A L3 AVG'][datum.value]","labelFont":"Liberation Sans","labelFontSize":19.5,"labelColor":"#000000","symbolType":"M-1,0H8","symbolSize":64,"symbolStrokeWidth":1.2,"labelOffset":32,"fillColor":"#ffffff","strokeColor":"#555555","padding":6,"rowPadding":3.9}},
"strokeDash":{"field":"s","type":"nominal","scale":{"domain":[1,2,3,4,5,6,7,8],"range":[[7,4],[1,0],[1.2,2.3],[1,0],[1.2,2.3],[1,0],[1.2,2.3],[1,0]]},
"legend":{"title":null,"orient":"none","legendX":898,"legendY":4,"labelExpr":"['','C2 QP limit','C2 AVG limit','VSD A L1 QP','VSD A L1 AVG','VSD A L2 QP','VSD A L2 AVG','VSD A L3 QP','VSD A L3 AVG'][datum.value]","labelFont":"Liberation Sans","labelFontSize":19.5,"labelColor":"#000000","symbolType":"M-1,0H8","symbolSize":64,"symbolStrokeWidth":1.2,"labelOffset":32,"fillColor":"#ffffff","strokeColor":"#555555","padding":6,"rowPadding":3.9}}
},
"layer":[
{"transform":[{"filter":"datum.s<=2"}],"mark":{"type":"line","strokeWidth":1.2,"clip":true},
"encoding":{"order":{"field":"i","type":"quantitative"},
"x":{"field":"f","type":"quantitative","scale":{"type":"log","domain":[0.15,30],"nice":false},
"axis":{"orient":"bottom","values":[0.2,0.3,0.4,0.5,0.6,0.7,0.8,0.9,1,2,3,4,5,6,7,8,9,10,20,30],"format":"~g","labelExpr":"indexof([0.2,0.5,1,2,5,10,20,30], datum.value) >= 0 ? datum.label : ''","grid":true,"gridColor":"#dfdfdf","gridOpacity":{"condition":{"test":"datum.value == 30","value":0},"value":1},"tickSize":-10,"tickColor":"#262626","domainColor":"#262626","labelFontSize":18,"labelColor":"#262626","labelPadding":15,"labelFlush":false,"labelOverlap":false,"title":"Frequency (MHz)","titleFontSize":19.8,"titleFontWeight":"normal","titleColor":"#262626","titlePadding":8}},
"y":{"field":"v","type":"quantitative","scale":{"domain":[10,80],"nice":false,"zero":false},
"axis":{"orient":"left","values":[10,15,20,25,30,35,40,45,50,55,60,65,70,75,80],"labelExpr":"datum.value % 10 == 0 ? datum.label : ''","grid":true,"gridColor":"#dfdfdf","gridOpacity":{"condition":{"test":"datum.value == 10 || datum.value == 80","value":0},"value":1},"tickSize":-10,"tickColor":"#262626","domainColor":"#262626","labelFontSize":18,"labelColor":"#262626","labelPadding":16,"labelFlush":false,"labelOverlap":false,"title":"Amplitude (dBuV)","titleFontSize":19.8,"titleFontWeight":"normal","titleColor":"#262626","titlePadding":6}}}},
{"transform":[{"filter":"datum.s==3"}],"mark":{"type":"line","strokeWidth":1.2,"clip":true}},
{"transform":[{"filter":"datum.s==4"}],"mark":{"type":"line","strokeWidth":1.1,"clip":true}},
{"transform":[{"filter":"datum.s==5"}],"mark":{"type":"line","strokeWidth":1.2,"clip":true}},
{"transform":[{"filter":"datum.s==6"}],"mark":{"type":"line","strokeWidth":1.1,"clip":true}},
{"transform":[{"filter":"datum.s==7"}],"mark":{"type":"line","strokeWidth":1.2,"clip":true}},
{"transform":[{"filter":"datum.s==8"}],"mark":{"type":"line","strokeWidth":1.1,"clip":true},
"encoding":{
"x":{"field":"f","type":"quantitative","scale":{"type":"log","domain":[0.15,30],"nice":false},
"axis":{"orient":"top","values":[0.2,0.3,0.4,0.5,0.6,0.7,0.8,0.9,1,2,3,4,5,6,7,8,9,10,20,30],"labels":false,"domain":false,"grid":false,"title":null,"tickSize":-10,"tickColor":"#262626"}},
"y":{"field":"v","type":"quantitative","scale":{"domain":[10,80],"nice":false,"zero":false},
"axis":{"orient":"right","values":[10,15,20,25,30,35,40,45,50,55,60,65,70,75,80],"labels":false,"domain":false,"grid":false,"title":null,"tickSize":-10,"tickColor":"#262626"}}}}
],
"resolve":{"axis":{"x":"independent","y":"independent"}}
}
